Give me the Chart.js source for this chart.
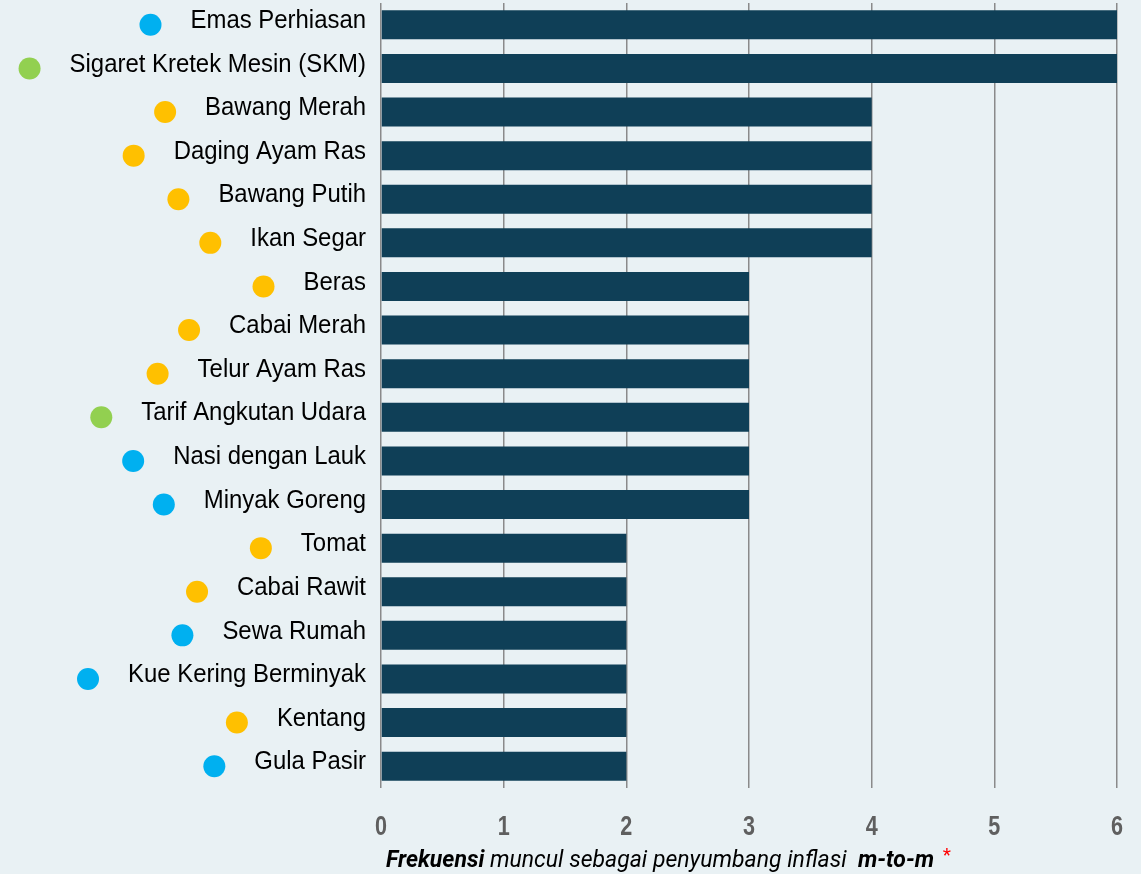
<!DOCTYPE html>
<html>
<head>
<meta charset="utf-8">
<script src="https://cdn.jsdelivr.net/npm/chart.js@4.4.1/dist/chart.umd.min.js"></script>
<style>
  html, body { margin: 0; padding: 0; background: #e9f1f4; }
  #wrap { width: 1141px; height: 874px; }
</style>
</head>
<body>
<div id="wrap"><canvas id="Chart" width="1141" height="874"></canvas></div>
<script>
// komoditas penyumbang inflasi m-to-m
const komoditas = ['Emas Perhiasan', 'Sigaret Kretek Mesin (SKM)', 'Bawang Merah', 'Daging Ayam Ras',
    'Bawang Putih', 'Ikan Segar', 'Beras', 'Cabai Merah', 'Telur Ayam Ras', 'Tarif Angkutan Udara',
    'Nasi dengan Lauk', 'Minyak Goreng', 'Tomat', 'Cabai Rawit', 'Sewa Rumah', 'Kue Kering Berminyak',
    'Kentang', 'Gula Pasir'];
const frekuensi = [6, 6, 4, 4, 4, 4, 3, 3, 3, 3, 3, 3, 2, 2, 2, 2, 2, 2];
// kelompok: inti, diatur pemerintah, bergejolak
const kelompok = ['inti', 'diatur', 'bergejolak', 'bergejolak', 'bergejolak', 'bergejolak', 'bergejolak',
    'bergejolak', 'bergejolak', 'diatur', 'inti', 'inti', 'bergejolak', 'bergejolak', 'inti', 'inti',
    'bergejolak', 'inti'];
const xTicks = [0, 1, 2, 3, 4, 5, 6];

const warnaKelompok = { inti: '#00b0f0', diatur: '#92d050', bergejolak: '#ffc000' };

const bgPlugin = {
    id: 'bg',
    beforeDraw(chart) {
        const c = chart.ctx;
        c.save();
        c.fillStyle = '#e9f1f4';
        c.fillRect(0, 0, chart.width, chart.height);
        c.restore();
    }
};

// narrow text helper (the source font is condensed)
function narrowText(c, txt, x, y, sx, align) {
    c.save();
    c.translate(x, y);
    c.scale(sx, 1);
    c.textAlign = align;
    c.fillText(txt, 0, 0);
    c.restore();
}

// labels on the left with coloured dots, x tick labels
const labelPlugin = {
    id: 'labelDots',
    afterDraw(chart) {
        const c = chart.ctx;
        const yScale = chart.scales.y;
        const xScale = chart.scales.x;
        const sx = 0.92;
        c.save();
        c.font = '26px "Liberation Sans", Arimo, Arial, sans-serif';
        c.textBaseline = 'middle';
        komoditas.forEach((lab, i) => {
            const y = yScale.getPixelForValue(i);
            const w = c.measureText(lab).width * sx;
            c.fillStyle = '#000';
            narrowText(c, lab, 366, y - 4, sx, 'right');
            c.beginPath();
            c.fillStyle = warnaKelompok[kelompok[i]];
            c.arc(366 - w - 40, y, 11, 0, Math.PI * 2);
            c.fill();
        });
        c.font = 'bold 27px "Liberation Sans", Arimo, Arial, sans-serif';
        c.fillStyle = '#5f5f5f';
        c.textBaseline = 'alphabetic';
        xTicks.forEach(v => {
            narrowText(c, String(v), xScale.getPixelForValue(v), 835, 0.8, 'center');
        });
        c.restore();
    }
};

// axis title with mixed styles
const titlePlugin = {
    id: 'axisTitle',
    afterDraw(chart) {
        const c = chart.ctx;
        const parts = [
            { t: 'Frekuensi', f: 'italic bold 23px Roboto, sans-serif' },
            { t: ' muncul sebagai penyumbang inflasi  ', f: 'italic 23px Roboto, sans-serif' },
            { t: 'm-to-m', f: 'italic bold 23px Roboto, sans-serif' },
            { t: ' ', f: 'italic 23px Roboto, sans-serif' }
        ];
        let x = 386;
        const y = 867;
        c.save();
        c.textBaseline = 'alphabetic';
        c.textAlign = 'left';
        c.fillStyle = '#000';
        parts.forEach(p => {
            c.font = p.f;
            c.fillText(p.t, x, y);
            x += c.measureText(p.t).width;
        });
        c.font = '19px Roboto, sans-serif';
        c.fillStyle = '#ff0000';
        c.fillText('*', x + 3, y - 6);
        c.restore();
    }
};

const ctx = document.getElementById('Chart').getContext('2d');
const chart = new Chart(ctx, {
    type: 'bar',
    data: {
        labels: komoditas,
        datasets: [{
            label: 'Frekuensi',
            data: frekuensi,
            backgroundColor: '#0f3f57',
            barPercentage: 0.665,
            categoryPercentage: 1
        }]
    },
    options: {
        indexAxis: 'y',
        responsive: false,
        animation: false,
        layout: { padding: { top: 3, right: 24, left: 0, bottom: 0 } },
        plugins: {
            legend: { display: false },
            tooltip: { enabled: false }
        },
        scales: {
            x: {
                min: 0,
                max: 6,
                afterBuildTicks: (s) => { s.ticks = xTicks.map(v => ({ value: v })); },
                afterFit: (s) => { s.height = 86; },
                ticks: { display: false },
                grid: { color: '#8a8a8a', lineWidth: 1.5, drawTicks: false },
                border: { display: false }
            },
            y: {
                afterFit: (s) => { s.width = 381; },
                ticks: { display: false },
                grid: { display: false },
                border: { display: false }
            }
        }
    },
    plugins: [bgPlugin, labelPlugin, titlePlugin]
});
</script>
</body>
</html>
